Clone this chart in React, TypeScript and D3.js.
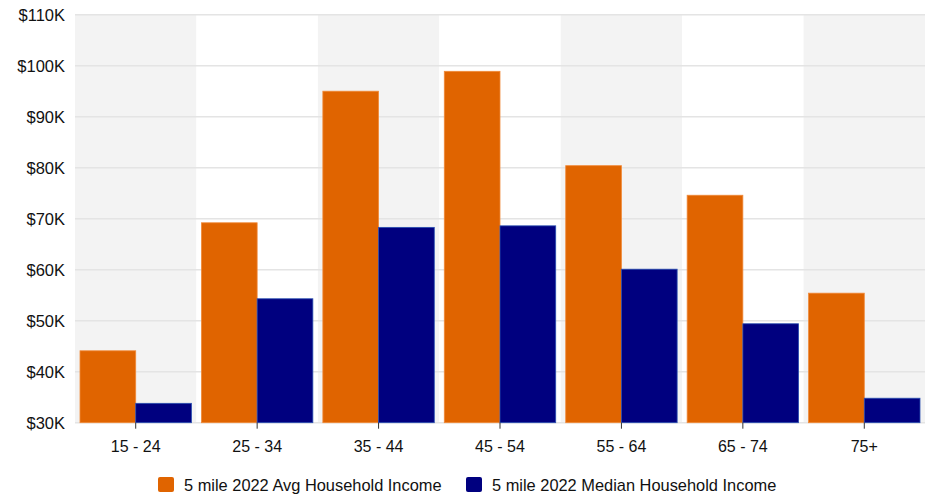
import React from "react";
import * as d3 from "d3";

const categories = ["15 - 24", "25 - 34", "35 - 44", "45 - 54", "55 - 64", "65 - 74", "75+"];
const avgIncome = [44100, 69200, 95000, 98900, 80400, 74600, 55400];
const medianIncome = [33800, 54300, 68300, 68600, 60100, 49400, 34800];
const yTicks = [30000, 40000, 50000, 60000, 70000, 80000, 90000, 100000, 110000];
const seriesNames = ["5 mile 2022 Avg Household Income", "5 mile 2022 Median Household Income"];
const seriesColors = ["#E06400", "#00007F"];
const seriesStroke = ["#F08A3A", "#2A4FB0"];

const W = 935;
const H = 496;
const left = 75;
const right = 925;
const top = 14.7;
const bottom = 422.7;

export default function App() {
  const x = d3.scaleBand<string>().domain(categories).range([left, right]).paddingInner(0).paddingOuter(0);
  const pad = 5;
  const inner = d3.scaleBand<number>().domain([0, 1]).range([pad, x.bandwidth() - pad]).padding(0);
  const y = d3.scaleLinear().domain([30000, 110000]).range([bottom, top]);
  const fmt = (v: number) => `$${v / 1000}K`;
  const font = "'Liberation Sans', Arial, Helvetica, sans-serif";
  const series = [avgIncome, medianIncome];
  const legendX = [158, 466];

  return (
    <svg width={W} height={H} style={{ position: "absolute", left: 0, top: 0, background: "#fff" }} fontFamily={font}>
      {categories.map((c, i) => (
        <rect key={c} x={x(c)} y={top} width={x.bandwidth()} height={bottom - top} fill={i % 2 === 0 ? "#F3F3F3" : "#FFFFFF"} />
      ))}
      {yTicks.map((t) => (
        <g key={t}>
          <line x1={left} x2={right} y1={y(t)} y2={y(t)} stroke="#E4E4E4" strokeWidth={1.5} />
          <text x={65} y={y(t)} dy="0.36em" textAnchor="end" fontSize={16.5} fill="#111">
            {fmt(t)}
          </text>
        </g>
      ))}
      {series.map((vals, s) =>
        categories.map((c, i) => {
          const x0 = (x(c) as number) + (inner(s) as number);
          return (
            <rect
              key={`${s}-${c}`}
              x={x0}
              y={y(vals[i])}
              width={inner.bandwidth()}
              height={bottom - y(vals[i])}
              fill={seriesColors[s]}
              stroke={seriesStroke[s]}
              strokeWidth={0.8}
            />
          );
        })
      )}
      {categories.map((c) => {
        const cx = (x(c) as number) + x.bandwidth() / 2;
        return (
          <g key={c}>
            <line x1={cx} x2={cx} y1={bottom} y2={bottom + 6} stroke="#333" strokeWidth={1} />
            <text x={cx} y={452} textAnchor="middle" fontSize={16} fill="#111">
              {c}
            </text>
          </g>
        );
      })}
      {seriesNames.map((n, s) => {
        const lx = legendX[s];
        return (
          <g key={n}>
            <rect x={lx} y={477} width={16} height={15} rx={2} fill={seriesColors[s]} />
            <text x={lx + 26} y={491} fontSize={16.4} fill="#111">
              {n}
            </text>
          </g>
        );
      })}
    </svg>
  );
}
